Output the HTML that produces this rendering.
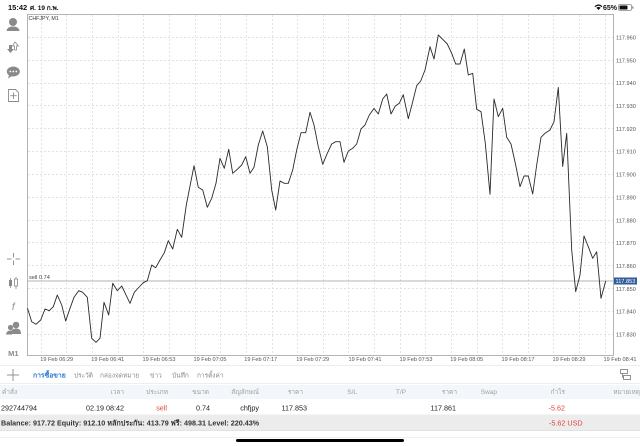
<!DOCTYPE html>
<html><head><meta charset="utf-8"><style>
html,body{margin:0;padding:0;background:#fff;}
svg{display:block;}
text{font-family:"Liberation Sans","DejaVu Sans","Noto Sans CJK SC",sans-serif;}
</style></head><body>
<svg width="640" height="447" viewBox="0 0 640 447" xmlns="http://www.w3.org/2000/svg">
<rect x="0" y="0" width="640" height="447" fill="#fff"/>
<!-- status bar -->
<text x="8" y="10" font-size="7.5" font-weight="bold" fill="#111">15:42</text>
<text x="30" y="10" font-size="6.5" font-weight="bold" fill="#111">ศ. 19 ก.พ.</text>
<g fill="#111">
<path d="M594.5 6.2 Q598.5 2.6 602.5 6.2 L601.6 7 Q598.5 4.4 595.4 7 Z"/>
<path d="M596.3 7.8 Q598.5 5.9 600.7 7.8 L598.5 10 Z"/>
</g>
<text x="603" y="10" font-size="7" font-weight="bold" fill="#111">65%</text>
<rect x="618.5" y="4.5" width="13" height="6" rx="1.5" fill="none" stroke="#888" stroke-width="0.8"/>
<rect x="619.5" y="5.5" width="8" height="4" rx="0.8" fill="#111"/>
<rect x="632.2" y="6.3" width="1.2" height="2.4" fill="#888"/>

<!-- grid horizontal -->
<g stroke="#d8d8d8" stroke-width="0.8" stroke-dasharray="2,2">
<line x1="28" y1="37.5" x2="613" y2="37.5"/>
<line x1="28" y1="60.5" x2="613" y2="60.5"/>
<line x1="28" y1="83.5" x2="613" y2="83.5"/>
<line x1="28" y1="105.5" x2="613" y2="105.5"/>
<line x1="28" y1="128.5" x2="613" y2="128.5"/>
<line x1="28" y1="151.5" x2="613" y2="151.5"/>
<line x1="28" y1="174.5" x2="613" y2="174.5"/>
<line x1="28" y1="197.5" x2="613" y2="197.5"/>
<line x1="28" y1="220.5" x2="613" y2="220.5"/>
<line x1="28" y1="242.5" x2="613" y2="242.5"/>
<line x1="28" y1="265.5" x2="613" y2="265.5"/>
<line x1="28" y1="288.5" x2="613" y2="288.5"/>
<line x1="28" y1="311.5" x2="613" y2="311.5"/>
<line x1="28" y1="334.5" x2="613" y2="334.5"/>
</g>
<!-- grid vertical -->
<g stroke="#dedede" stroke-width="0.8" stroke-dasharray="2,2">
<line x1="41.5" y1="15" x2="41.5" y2="355"/>
<line x1="66.5" y1="15" x2="66.5" y2="355"/>
<line x1="92.5" y1="15" x2="92.5" y2="355"/>
<line x1="118.5" y1="15" x2="118.5" y2="355"/>
<line x1="143.5" y1="15" x2="143.5" y2="355"/>
<line x1="169.5" y1="15" x2="169.5" y2="355"/>
<line x1="195.5" y1="15" x2="195.5" y2="355"/>
<line x1="220.5" y1="15" x2="220.5" y2="355"/>
<line x1="246.5" y1="15" x2="246.5" y2="355"/>
<line x1="272.5" y1="15" x2="272.5" y2="355"/>
<line x1="297.5" y1="15" x2="297.5" y2="355"/>
<line x1="323.5" y1="15" x2="323.5" y2="355"/>
<line x1="348.5" y1="15" x2="348.5" y2="355"/>
<line x1="374.5" y1="15" x2="374.5" y2="355"/>
<line x1="400.5" y1="15" x2="400.5" y2="355"/>
<line x1="425.5" y1="15" x2="425.5" y2="355"/>
<line x1="451.5" y1="15" x2="451.5" y2="355"/>
<line x1="477.5" y1="15" x2="477.5" y2="355"/>
<line x1="502.5" y1="15" x2="502.5" y2="355"/>
<line x1="528.5" y1="15" x2="528.5" y2="355"/>
<line x1="553.5" y1="15" x2="553.5" y2="355"/>
<line x1="579.5" y1="15" x2="579.5" y2="355"/>
<line x1="605.5" y1="15" x2="605.5" y2="355"/>
</g>

<!-- chart border -->
<rect x="27.5" y="14.5" width="586" height="341" fill="none" stroke="#b4b4b4" stroke-width="1"/>

<!-- sell line -->
<line x1="28" y1="281" x2="613" y2="281" stroke="#9a9a9a" stroke-width="0.8"/>
<text x="29" y="279" font-size="5.6" fill="#444">sell 0.74</text>
<text x="28.5" y="20" font-size="5.3" fill="#333">CHFJPY, M1</text>

<!-- price series -->
<polyline fill="none" stroke="#2a2a2a" stroke-width="0.9" stroke-linejoin="round" points="
27.5,308.3 31.7,321.7 36,324.3 40.7,320 45,309 49.3,310.7 53.3,306.7 57.3,295 61.7,305 65.7,321 70,308.3 74,297.3 78.7,290.7 82.7,292.3 87.3,297.3 91.7,338.3 96,342.3 100,338.3 104,302.3 108.7,315 112.7,283.3 117.3,290.7 121.7,286 130,303.3 134.3,292.3 138.7,287.5 143.3,282.7 147.3,280.7 151.7,265 155.7,267.7 160,260 164.3,252.7 168.3,240.7 172.7,249 177.3,229.3 181.7,237.3 186.3,205 194,165.7 198.3,187.3 202.7,190 207.3,207.3 211.7,198.3 216,183.3 220,158.3 224.3,168.3 228.7,149.3 232.7,173.3 237.3,169.3 241.7,165 245.7,156.7 250,173.3 254,167.3 258.3,145 262.7,131 267.3,146.7 271.7,190 275.7,210 280,181 284.3,183.3 288.3,183.3 292.7,170 296.7,150 301,132.7 305.7,132.7 310,112.3 314,125 318.3,146.7 322.7,164.3 327.3,153.3 331.7,144 335.7,141.7 340,141.7 344,162.3 348.3,151 352.7,148.3 356.7,144 361,129 365,125 369.3,115 374,108.5 378.3,114 382.7,99 386.7,94 391,114 395.3,106 399.3,103.3 403.3,94.7 408.3,118.7 412.3,103.3 416.7,85.7 420.7,81 425,70 430,46.7 434,59 438.3,35 442.7,39.3 447.3,44 451.7,53.3 455.7,64 460,64 464.3,49 468.3,75 472.7,73.3 476.7,109.3 481,111.7 485.3,143.3 490,194.3 494,99 498.3,116.7 502.7,108.3 506.7,137.3 511,144 515.7,165 520,186.7 524,176 528.3,176 532.7,194 536.7,165 541,137.3 545,133.3 550,130 554,121.7 558.3,87.5 562.7,166.5 566.7,133.3 571.7,250 575.7,291.7 580,275 584,236 588.3,246.7 592.7,258.3 596.7,251.7 601,298.3 605.7,281"/>

<!-- y axis labels -->
<g font-size="5.6" fill="#555">
<text x="616" y="39.5">117.960</text>
<text x="616" y="62.3">117.950</text>
<text x="616" y="85.2">117.940</text>
<text x="616" y="108">117.930</text>
<text x="616" y="130.9">117.920</text>
<text x="616" y="153.7">117.910</text>
<text x="616" y="176.6">117.900</text>
<text x="616" y="199.4">117.890</text>
<text x="616" y="222.3">117.880</text>
<text x="616" y="245.1">117.870</text>
<text x="616" y="268">117.860</text>
<text x="616" y="290.8">117.850</text>
<text x="616" y="313.7">117.840</text>
<text x="616" y="336.5">117.830</text>
</g>
<rect x="614" y="277.5" width="23" height="7" fill="#2f5d9c"/>
<text x="615.5" y="283.2" font-size="5.6" fill="#fff">117.853</text>

<!-- x axis labels -->
<g font-size="5.6" fill="#555" text-anchor="middle">
<text x="56.7" y="361">19 Feb 06:29</text>
<text x="107.7" y="361">19 Feb 06:41</text>
<text x="159" y="361">19 Feb 06:53</text>
<text x="210" y="361">19 Feb 07:05</text>
<text x="260.7" y="361">19 Feb 07:17</text>
<text x="312.7" y="361">19 Feb 07:29</text>
<text x="365" y="361">19 Feb 07:41</text>
<text x="416" y="361">19 Feb 07:53</text>
<text x="466.7" y="361">19 Feb 08:05</text>
<text x="518" y="361">19 Feb 08:17</text>
<text x="569" y="361">19 Feb 08:29</text>
<text x="620" y="361">19 Feb 08:41</text>
</g>
<line x1="0" y1="365.5" x2="640" y2="365.5" stroke="#ececec" stroke-width="1"/>

<!-- left toolbar icons -->
<g fill="#8a8a8a" stroke="none">
<!-- person -->
<circle cx="13" cy="22" r="4"/>
<path d="M6.5 31 Q7 26.5 13 26.5 Q19 26.5 19.5 31 Z"/>
<!-- arrows -->
<path d="M9 45 L12 45 L12 49 L14 49 L10.5 53 L7 49 L9 49 Z"/>
<path d="M15 42 L18.5 46 L16.5 46 L16.5 50 L14.5 50 L14.5 46 L12.5 46 Z" fill="none" stroke="#8a8a8a" stroke-width="0.8"/>
<!-- chat -->
<ellipse cx="13.3" cy="71.5" rx="6.5" ry="5"/>
<path d="M9 75 L8 78.5 L12 76 Z"/>
</g>
<g fill="#fff"><circle cx="10.3" cy="71.5" r="0.9"/><circle cx="13.3" cy="71.5" r="0.9"/><circle cx="16.3" cy="71.5" r="0.9"/></g>
<g fill="none" stroke="#8a8a8a" stroke-width="0.9">
<path d="M8.5 89.5 L15.5 89.5 L18.5 92.5 L18.5 101.5 L8.5 101.5 Z"/>
<line x1="13.5" y1="92.5" x2="13.5" y2="99"/>
<line x1="10.3" y1="95.7" x2="16.7" y2="95.7"/>
<!-- crosshair -->
<line x1="13.5" y1="253" x2="13.5" y2="257.5"/>
<line x1="13.5" y1="260.5" x2="13.5" y2="265"/>
<line x1="7" y1="259" x2="11.5" y2="259"/>
<line x1="15.5" y1="259" x2="20" y2="259"/>
</g>
<g fill="#8a8a8a">
<!-- candles -->
<rect x="9" y="280" width="3" height="6"/>
<line x1="10.5" y1="278" x2="10.5" y2="288" stroke="#8a8a8a" stroke-width="0.8"/>
<rect x="14.5" y="279" width="3" height="7" fill="none" stroke="#8a8a8a" stroke-width="0.8"/>
<line x1="16" y1="277" x2="16" y2="279" stroke="#8a8a8a" stroke-width="0.8"/>
<line x1="16" y1="286" x2="16" y2="289" stroke="#8a8a8a" stroke-width="0.8"/>
<!-- people -->
<circle cx="16" cy="325" r="3.3"/>
<path d="M10.5 334 Q11 328.5 16 328.5 Q21 328.5 21 334 Z"/>
<circle cx="10.5" cy="327.5" r="2.6"/>
<path d="M6 334.5 Q6.5 330.5 10.5 330.5 Q13 330.5 13.5 332 L12 334.5 Z"/>
</g>
<text x="13.3" y="310" font-size="10" font-style="italic" fill="#8a8a8a" text-anchor="middle" font-family="Liberation Serif, serif">f</text>
<text x="13.3" y="356" font-size="7.5" font-weight="bold" fill="#8a8a8a" text-anchor="middle">M1</text>

<!-- tabs row -->
<g stroke="#888" stroke-width="0.9">
<line x1="7" y1="375" x2="19" y2="375"/>
<line x1="13" y1="369" x2="13" y2="381"/>
</g>
<text x="33" y="377.5" font-size="6.8" font-weight="bold" fill="#2a7ad5">การซื้อขาย</text>
<g font-size="6.5" fill="#8a8a8a">
<text x="74" y="377.5">ประวัติ</text>
<text x="100" y="377.5">กล่องจดหมาย</text>
<text x="150" y="377.5">ข่าว</text>
<text x="172" y="377.5">บันทึก</text>
<text x="197" y="377.5">การตั้งค่า</text>
</g>
<g fill="none" stroke="#777" stroke-width="0.8">
<rect x="620.5" y="369.5" width="7" height="4"/>
<rect x="623.5" y="375.5" width="7" height="4"/>
<line x1="622.5" y1="373.5" x2="622.5" y2="377.5"/>
<line x1="622.5" y1="377.5" x2="623.5" y2="377.5"/>
</g>
<line x1="0" y1="383.5" x2="640" y2="383.5" stroke="#eeeeee" stroke-width="1"/>

<!-- header row -->
<rect x="0" y="385" width="640" height="14" fill="#f3f6fa"/>
<g font-size="6.5" fill="#a0a0a0" text-anchor="end">
<text x="2" y="394" text-anchor="start">คำสั่ง</text>
<text x="124" y="394">เวลา</text>
<text x="168" y="394">ประเภท</text>
<text x="209" y="394">ขนาด</text>
<text x="259" y="394">สัญลักษณ์</text>
<text x="303" y="394">ราคา</text>
<text x="357" y="394">S/L</text>
<text x="406" y="394">T/P</text>
<text x="457" y="394">ราคา</text>
<text x="497" y="394">Swap</text>
<text x="565" y="394">กำไร</text>
<text x="640" y="394">หมายเหตุ</text>
</g>

<!-- data row -->
<g font-size="7.2" fill="#222" text-anchor="end">
<text x="1" y="410.5" text-anchor="start">292744794</text>
<text x="124" y="410.5">02.19 08:42</text>
<text x="167" y="410.5" fill="#e0453a">sell</text>
<text x="210" y="410.5">0.74</text>
<text x="259" y="410.5">chfjpy</text>
<text x="307" y="410.5">117.853</text>
<text x="456" y="410.5">117.861</text>
<text x="565" y="410.5" fill="#e0453a">-5.62</text>
</g>

<!-- balance row -->
<rect x="0" y="414.5" width="640" height="16" fill="#ececec"/>
<line x1="0" y1="430.5" x2="640" y2="430.5" stroke="#e2e2e2" stroke-width="1"/>
<text x="1" y="425.5" font-size="7.2" font-weight="bold" fill="#333">Balance: 917.72 Equity: 912.10 หลักประกัน: 413.79 ฟรี: 498.31 Level: 220.43%</text>
<text x="549" y="425.5" font-size="7.2" fill="#e0453a">-5.62  USD</text>

<line x1="0" y1="437.5" x2="640" y2="437.5" stroke="#f0f0f0" stroke-width="1"/>
<rect x="236" y="439" width="168" height="3" rx="1.5" fill="#000"/>
</svg>
</body></html>
